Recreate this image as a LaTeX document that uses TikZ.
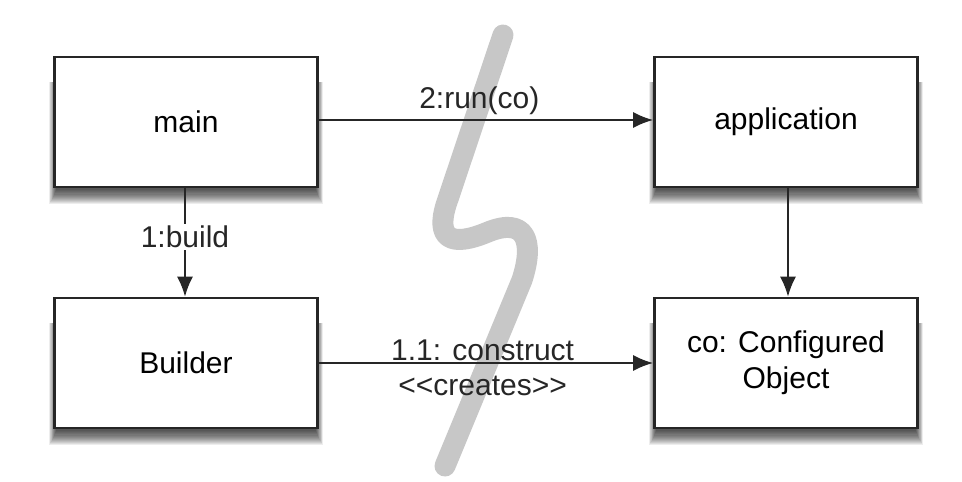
\documentclass[tikz,border=0pt]{standalone}
\usepackage{fontspec}
\setmainfont{Liberation Sans}
\usetikzlibrary{arrows.meta}
\tikzset{
  obj/.style={draw=black!85, line width=2.6pt, fill=white, minimum width=263pt, minimum height=130pt,
     align=center, font=\fontsize{30}{36}\selectfont},
  conn/.style={draw=black!85, line width=2pt, -{Latex[length=20pt,width=16pt]}},
  lbl/.style={font=\fontsize{30}{36}\selectfont, text=black!85, inner sep=4pt},
  sep/.style={draw=black!22, line width=21pt, line cap=round, line join=round},
  shadowlayer/.style={fill=black, fill opacity=0.07}
}
\begin{document}
\begin{tikzpicture}[x=1pt,y=-1pt]
\fill[white] (0,0) rectangle (962,482);
\useasboundingbox (0,0) rectangle (962,482);
% soft shadows under the four boxes (centres known)
\foreach \cx/\cy in {186/122, 786/122, 186/363, 786/363}{
  \foreach \r in {1,...,14}{
    \fill[shadowlayer] (\cx-129-0.55*\r, \cy-40) rectangle (\cx+129+0.55*\r, \cy+67+1.1*\r);
  }
}
% grey S-shaped separator
\draw[sep] (503,35) -- (446,205) .. controls (436,238) and (450,248) .. (488,232)
   .. controls (525,217) and (535,240) .. (522,280) -- (445,466);
% objects
\node[obj] (main) at (186,122) {main};
\node[obj] (app) at (786,122) {application};
\node[obj] (builder) at (186,363) {Builder};
\node[obj] (co) at (786,363) {co: Configured\\[0pt]Object};
% connectors
\draw[conn] (main.east |- 0,120) -- node[lbl, above, pos=0.48] (run) {2:run(co)} (app.west |- 0,120);
\node[lbl, fill=white, inner sep=2pt] (build) at (185,237) {1:build};
\draw[draw=black!85, line width=2pt] (main.south -| build) -- (build.north);
\draw[conn] (build.south) -- (builder.north -| build);
\draw[conn] (app.south -| 788,0) -- (co.north -| 788,0);
\draw[conn] (builder.east) -- node[lbl, above, pos=0.49, inner sep=1pt] (cons) {1.1: construct}
   node[lbl, below, pos=0.49, inner sep=12pt] (creates) {{<}{<}creates{>}{>}} (co.west);
\end{tikzpicture}
\end{document}
